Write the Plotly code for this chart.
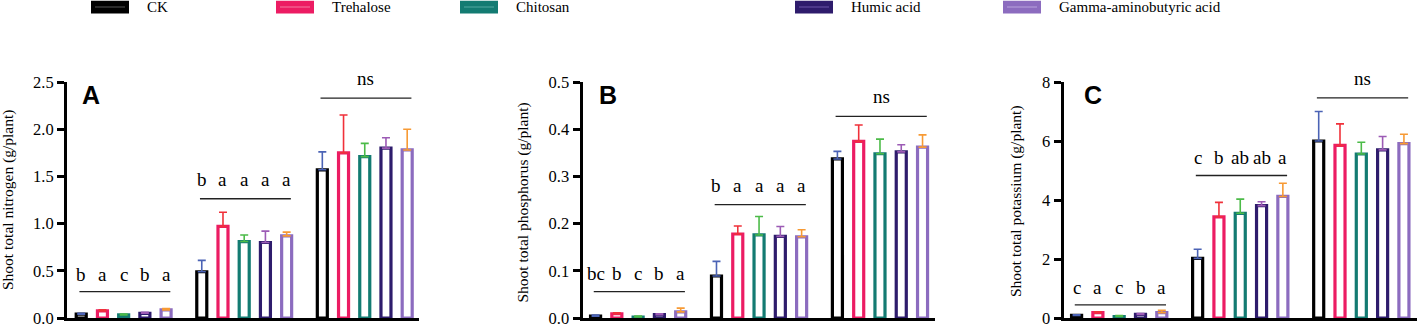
import plotly.graph_objects as go

# ---------------- data ----------------
treatments = ["CK", "Trehalose", "Chitosan", "Humic acid", "Gamma-aminobutyric acid"]
stages = [0, 1, 2]  # three sampling groups per panel

# Panel A: shoot total nitrogen (g/plant)
n_ck = [0.040, 0.49, 1.57]
n_tre = [0.076, 0.97, 1.75]
n_chi = [0.033, 0.81, 1.71]
n_hum = [0.050, 0.80, 1.80]
n_gaba = [0.086, 0.87, 1.78]
n_err_ck = [0.010, 0.12, 0.19]
n_err_tre = [0.010, 0.15, 0.40]
n_err_chi = [0.010, 0.07, 0.14]
n_err_hum = [0.010, 0.12, 0.11]
n_err_gaba = [0.015, 0.04, 0.22]

# Panel B: shoot total phosphorus (g/plant)
p_ck = [0.004, 0.089, 0.337]
p_tre = [0.009, 0.178, 0.374]
p_chi = [0.002, 0.176, 0.348]
p_hum = [0.007, 0.173, 0.352]
p_gaba = [0.013, 0.172, 0.362]
p_err_ck = [0.002, 0.031, 0.016]
p_err_tre = [0.002, 0.017, 0.035]
p_err_chi = [0.002, 0.039, 0.031]
p_err_hum = [0.002, 0.021, 0.015]
p_err_gaba = [0.008, 0.015, 0.026]

# Panel C: shoot total potassium (g/plant)
k_ck = [0.09, 2.02, 6.00]
k_tre = [0.18, 3.43, 5.85]
k_chi = [0.05, 3.55, 5.56]
k_hum = [0.12, 3.81, 5.70]
k_gaba = [0.18, 4.12, 5.91]
k_err_ck = [0.02, 0.31, 1.00]
k_err_tre = [0.03, 0.49, 0.73]
k_err_chi = [0.03, 0.48, 0.40]
k_err_hum = [0.03, 0.13, 0.45]
k_err_gaba = [0.08, 0.45, 0.32]

# significance letters per group
sig_A = [["b", "a", "c", "b", "a"], ["b", "a", "a", "a", "a"], "ns"]
sig_B = [["bc", "b", "c", "b", "a"], ["b", "a", "a", "a", "a"], "ns"]
sig_C = [["c", "a", "c", "b", "a"], ["c", "b", "ab", "ab", "a"], "ns"]

y_titles = ["Shoot total nitrogen (g/plant)",
            "Shoot total phosphorus (g/plant)",
            "Shoot total potassium (g/plant)"]
panel_letters = ["A", "B", "C"]
y_ranges = [[0, 2.5], [0, 0.5], [0, 8]]
y_dticks = [0.5, 0.1, 2]
y_formats = [".1f", ".1f", "d"]

# ---------------- styles ----------------
bar_colors = ["#000000", "#ec1c63", "#137b72", "#2e1c6c", "#8c6cbf"]
err_colors = ["#4b63b5", "#f0313a", "#4cbb48", "#9c5bb5", "#f79a34"]
legend_line_colors = ["#555555", "#f57ba3", "#52a9a0", "#6a55a8", "#b9a3dd"]
SERIF = "Liberation Serif"
SANS = "Liberation Sans"

W, H = 1417, 327
def px(x):
    return x / W
def py(y):
    return (H - y) / H

x_domains = [[px(67), px(419)], [px(582.5), px(935)], [px(1063.5), px(1417)]]
x_ranges = [[-0.47, 2.45], [-0.46, 2.455], [-0.46, 2.46]]
y_domain = [py(318), py(82)]
spacing = 0.176
bar_w = 0.083

# sig positions (in data units of each panel): letter centre, line
sig_letter_y = [[0.463, 1.463, 2.537], [0.094, 0.280, 0.4685], [1.05, 5.43, 8.12]]
sig_line_y = [[0.28, 1.263, 2.33], [0.056, 0.240, 0.427], [0.443, 4.83, 7.46]]

panels = [
    ([n_ck, n_tre, n_chi, n_hum, n_gaba],
     [n_err_ck, n_err_tre, n_err_chi, n_err_hum, n_err_gaba], sig_A),
    ([p_ck, p_tre, p_chi, p_hum, p_gaba],
     [p_err_ck, p_err_tre, p_err_chi, p_err_hum, p_err_gaba], sig_B),
    ([k_ck, k_tre, k_chi, k_hum, k_gaba],
     [k_err_ck, k_err_tre, k_err_chi, k_err_hum, k_err_gaba], sig_C),
]

fig = go.Figure()
annotations = []
shapes = []
title_x = [8, 523, 1016]
title_y = [200, 202.5, 201]
letter_x = [80, 597, 1082]

for p, (vals, errs, sig) in enumerate(panels):
    xa = "x" if p == 0 else f"x{p+1}"
    ya = "y" if p == 0 else f"y{p+1}"
    ymax = y_ranges[p][1]
    for i, name in enumerate(treatments):
        off = (i - 2) * spacing
        fig.add_trace(go.Bar(
            x=[g + off for g in stages], y=vals[i], width=bar_w,
            name=name, showlegend=False, xaxis=xa, yaxis=ya,
            marker=dict(color="white", line=dict(color=bar_colors[i], width=3.2)),
            error_y=dict(type="data", array=errs[i], arrayminus=[0] * len(stages),
                         symmetric=False, color=err_colors[i], thickness=1.6, width=4),
        ))
    # significance annotations (y in axis-domain fraction so they may sit above the range)
    for g in stages:
        ly = sig_line_y[p][g]
        shapes.append(dict(type="line", xref=xa, yref=ya,
                           x0=g - 2 * spacing - 0.015, x1=g + 2 * spacing + 0.035,
                           y0=ly, y1=ly, line=dict(color="#222222", width=1.3)))
        labs = sig[g]
        yd = sig_letter_y[p][g] / ymax
        if isinstance(labs, str):
            annotations.append(dict(xref=xa, yref=ya + " domain", x=g + 0.01, y=yd,
                                    text=labs, showarrow=False, xanchor="center",
                                    yanchor="middle",
                                    font=dict(family=SERIF, size=19, color="black")))
        else:
            for i, t in enumerate(labs):
                annotations.append(dict(xref=xa, yref=ya + " domain", x=g + (i - 2) * spacing,
                                        y=yd, text=t, showarrow=False,
                                        xanchor="center", yanchor="middle",
                                        font=dict(family=SERIF, size=19, color="black")))
    # y-axis title
    annotations.append(dict(xref="paper", yref="paper", x=px(title_x[p]), y=py(title_y[p]),
                            text=y_titles[p], textangle=-90, showarrow=False,
                            xanchor="center", yanchor="middle",
                            font=dict(family=SERIF, size=15.5, color="black")))
    # panel letter
    annotations.append(dict(xref="paper", yref="paper", x=px(letter_x[p]), y=py(95),
                            text="<b>" + panel_letters[p] + "</b>", showarrow=False,
                            xanchor="left", yanchor="middle",
                            font=dict(family=SANS, size=25, color="black")))

# custom legend
legend_x = [91, 276, 460, 795, 1003]
sw_w = 38
for i, name in enumerate(treatments):
    x0 = legend_x[i]
    shapes.append(dict(type="rect", xref="paper", yref="paper",
                       x0=px(x0), x1=px(x0 + sw_w), y0=py(13.5), y1=py(0.8),
                       fillcolor=bar_colors[i], line=dict(width=0)))
    shapes.append(dict(type="line", xref="paper", yref="paper",
                       x0=px(x0 + 4), x1=px(x0 + sw_w - 4), y0=py(7), y1=py(7),
                       line=dict(color=legend_line_colors[i], width=1)))
    annotations.append(dict(xref="paper", yref="paper", x=px(x0 + sw_w + 16), y=py(7.5),
                            text=name, showarrow=False, xanchor="left", yanchor="middle",
                            font=dict(family=SERIF, size=15, color="black")))

layout = dict(
    width=W, height=H, margin=dict(l=0, r=0, t=0, b=0, pad=0, autoexpand=False),
    paper_bgcolor="white", plot_bgcolor="white",
    barmode="overlay", showlegend=False,
    annotations=annotations, shapes=shapes,
)
for p in range(3):
    xk = "xaxis" if p == 0 else f"xaxis{p+1}"
    yk = "yaxis" if p == 0 else f"yaxis{p+1}"
    ya_anchor = "y" if p == 0 else f"y{p+1}"
    xa_anchor = "x" if p == 0 else f"x{p+1}"
    layout[xk] = dict(domain=x_domains[p], range=x_ranges[p], anchor=ya_anchor,
                      showline=True, linecolor="black", linewidth=3,
                      showticklabels=False, ticks="", showgrid=False, zeroline=False,
                      fixedrange=True, automargin=False)
    layout[yk] = dict(domain=y_domain, range=y_ranges[p], anchor=xa_anchor,
                      showline=True, linecolor="black", linewidth=3,
                      ticks="outside", ticklen=7, tickwidth=2.5, tickcolor="black",
                      dtick=y_dticks[p], tick0=0, tickformat=y_formats[p],
                      tickfont=dict(family=SERIF, size=16.5, color="black"),
                      ticklabeloverflow="allow",
                      showgrid=False, zeroline=False, fixedrange=True, automargin=False)

fig.update_layout(**layout)
fig.write_html(
    "out.html",
    config={"displayModeBar": False},
    post_script="document.body.style.margin='0px';document.body.style.overflow='hidden';",
)
